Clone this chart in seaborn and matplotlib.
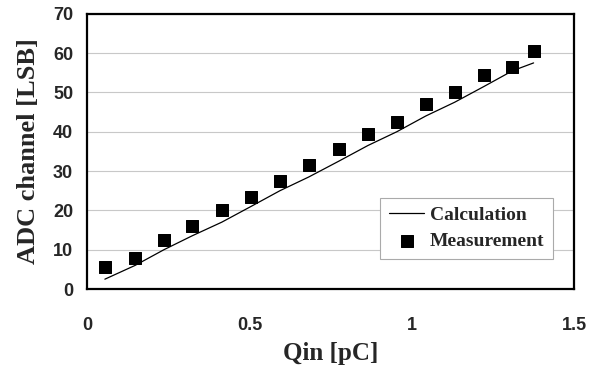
import numpy as np
import pandas as pd
import seaborn as sns
import matplotlib.pyplot as plt

# data
qin = [0.055, 0.148, 0.237, 0.323, 0.415, 0.505, 0.594, 0.683,
       0.775, 0.865, 0.954, 1.043, 1.132, 1.222, 1.31, 1.375]
measurement = [5.5, 8.0, 12.5, 16.0, 20.0, 23.5, 27.5, 31.5,
               35.5, 39.5, 42.5, 47.0, 50.0, 54.5, 56.5, 60.5]
calculation = [2.5, 6.0, 10.0, 13.5, 17.0, 21.0, 25.0, 28.5,
               32.5, 36.5, 40.0, 44.0, 47.5, 51.5, 55.5, 57.5]

df = pd.DataFrame({"qin": qin, "meas": measurement, "calc": calculation})

sns.set_style("white")
fig = plt.figure(figsize=(6, 3.67), dpi=100)
ax = fig.add_axes([0.145, 0.2125, 0.812, 0.75])

ax.yaxis.grid(True, color="#c8c8c8", linewidth=0.8)
ax.set_axisbelow(True)

sns.lineplot(data=df, x="qin", y="calc", color="black", linewidth=0.9,
             ax=ax, label="Calculation")
sns.scatterplot(data=df, x="qin", y="meas", color="black", marker="s",
                s=80, edgecolor="black", ax=ax, label="Measurement", zorder=3)

ax.set_xlim(0, 1.5)
ax.set_ylim(0, 70)
ax.set_xticks([0, 0.5, 1, 1.5])
ax.set_xticklabels(["0", "0.5", "1", "1.5"])
ax.set_yticks(range(0, 71, 10))

for s in ax.spines.values():
    s.set_color("black")
    s.set_linewidth(1.6)

ax.tick_params(axis="x", direction="in", length=4, width=0.6, color="#888888",
               pad=20, labelsize=13)
ax.tick_params(axis="y", length=0, pad=10, labelsize=13)
for lab in ax.get_xticklabels() + ax.get_yticklabels():
    lab.set_fontfamily("Liberation Sans")
    lab.set_fontweight("bold")

ax.set_xlabel("Qin [pC]", fontfamily="Liberation Serif", fontweight="bold",
              fontsize=18, labelpad=6)
ax.set_ylabel("ADC channel [LSB]", fontfamily="Liberation Serif",
              fontweight="bold", fontsize=19, labelpad=9)

leg = ax.legend(loc="lower right", bbox_to_anchor=(0.957, 0.109),
                borderaxespad=0, frameon=True, fancybox=False, framealpha=1,
                prop={"family": "Liberation Serif", "weight": "bold", "size": 14},
                handlelength=1.8, handletextpad=0.3, borderpad=0.45,
                labelspacing=0.45)
leg.get_frame().set_edgecolor("#aaaaaa")
leg.get_frame().set_linewidth(0.8)

fig.savefig("out.png", dpi=100)
